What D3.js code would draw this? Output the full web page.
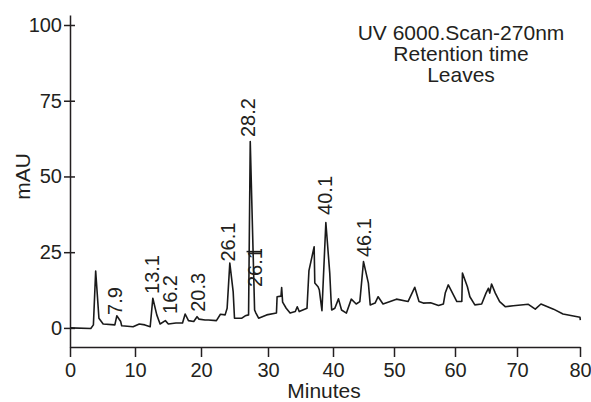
<!DOCTYPE html>
<html>
<head>
<meta charset="utf-8">
<script src="https://cdn.jsdelivr.net/npm/d3@7"></script>
<style>
  body { margin: 0; background: #fff; }
  svg text { font-family: "Liberation Sans", Arial, sans-serif; fill: #231f20; }
</style>
</head>
<body>
<div id="chart"></div>
<script>
var svgWidth = 591;
var svgHeight = 402;

// Retention time (minutes) and absorbance (mAU)
var times = [0, 3.2, 3.6, 3.95, 4.45, 5.1, 6.9, 7.2, 7.8, 7.95, 9.7, 10.65, 11.5, 12.3, 12.7, 13.3, 13.8,
  14.6, 15.05, 16.2, 17.2, 17.6, 18.1, 18.9, 19.4, 19.7, 20.6, 21.1, 22.3, 22.9, 23.6, 23.9, 24.3,
  24.8, 25.0, 26.1, 26.6, 27.1, 27.35, 28.0, 28.2, 28.6, 29.8, 31.3, 31.4, 32.0, 32.1, 32.25, 32.8,
  33.4, 34.2, 34.5, 34.8, 36.0, 36.3, 37.1, 37.2, 37.7, 37.9, 38.3, 38.9, 39.5, 39.7, 39.8, 40.3,
  40.9, 41.4, 42.2, 43.0, 43.8, 44.4, 45.0, 45.8, 46.1, 46.9, 47.4, 48.2, 49.6, 50.4, 52.3, 53.4,
  54.1, 54.8, 56.0, 57.3, 58.1, 58.4, 58.9, 60.3, 61.1, 61.2, 62.0, 62.4, 63.2, 64.3, 65.0, 65.4,
  65.6, 65.9, 66.5, 67.2, 68.1, 69.4, 71.8, 72.9, 73.8, 75.8, 77.3, 80.0, 80.05];
var mau = [0, -0.2, 1.0, 18.8, 3.2, 1.3, 1.0, 4.0, 2.1, 0.7, 0.4, 1.3, 1.0, 0.4, 9.8, 4.3, 1.3,
  2.4, 1.3, 1.6, 1.6, 4.6, 2.4, 2.1, 3.7, 2.9, 2.6, 2.6, 2.4, 4.5, 4.3, 6.5, 21.4,
  12.0, 3.2, 3.2, 4.0, 4.3, 61.5, 5.9, 4.9, 3.2, 4.3, 4.9, 10.3, 10.5, 13.3, 8.5, 6.5,
  4.9, 5.4, 7.0, 5.4, 6.5, 18.9, 26.8, 14.8, 13.6, 12.5, 5.7, 34.8, 18.1, 9.2, 5.9, 6.5,
  9.6, 5.9, 4.9, 9.5, 7.9, 8.7, 21.9, 14.8, 7.6, 8.2, 10.3, 7.9, 8.9, 9.5, 8.7, 13.4,
  8.7, 8.2, 8.3, 7.4, 7.9, 11.5, 14.2, 8.7, 8.7, 18.1, 13.6, 10.3, 7.6, 7.9, 11.5, 13.1,
  11.5, 14.5, 11.5, 8.7, 7.0, 7.3, 7.8, 6.2, 7.9, 6.2, 4.6, 3.5, 2.6];

// Peak labels: text, time and mAU where the label starts
var peakLabels = ["7.9", "13.1", "16.2", "20.3", "26.1", "28.2", "26.1", "40.1", "46.1"];
var labelTimes = [6.9, 12.6, 15.3, 19.5, 24.0, 27.0, 28.1, 38.7, 45.0];
var labelLevels = [4.3, 11.2, 4.6, 5.3, 21.9, 63.0, 13.5, 37.3, 23.4];

var xTicks = [0, 10, 20, 30, 40, 50, 60, 70, 80];
var yTicks = [0, 25, 50, 75, 100];
var titleLines = ["UV 6000.Scan-270nm", "Retention time", "Leaves"];

var svg = d3.select("#chart")
  .append("svg")
  .attr("width", svgWidth)
  .attr("height", svgHeight);

// the printed x axis is slightly uneven, so map each decade to its tick
var xScale = d3.scaleLinear()
  .domain(xTicks)
  .range([70, 135, 201, 268, 333, 394, 455, 517, 580]);

var yScale = d3.scaleLinear()
  .domain([-6.3, 103.3])
  .range([347, 15]);

// x axis
var xAxis = svg.append("g")
  .attr("transform", `translate(0, ${yScale(-6.3)})`)
  .call(d3.axisBottom(xScale).tickValues(xTicks).tickSizeInner(10).tickSizeOuter(0).tickPadding(6));

// y axis
var yAxis = svg.append("g")
  .attr("transform", `translate(${xScale(0)}, 0)`)
  .call(d3.axisLeft(yScale).tickValues(yTicks).tickSizeInner(6).tickSizeOuter(0).tickPadding(2));

yAxis.selectAll(".tick line").attr("x2", 5).attr("x1", -6);

svg.selectAll(".domain, .tick line")
  .attr("stroke", "#231f20")
  .attr("stroke-width", 1.5);

svg.selectAll(".tick text")
  .attr("font-size", "20px")
  .attr("font-family", null)
  .attr("fill", "#231f20");

// chromatogram trace
var trace = d3.line()
  .x((d, i) => xScale(times[i]))
  .y(d => yScale(d));

svg.append("path")
  .attr("d", trace(mau))
  .attr("fill", "none")
  .attr("stroke", "#1a1a1a")
  .attr("stroke-width", 1.6)
  .attr("stroke-linejoin", "round");

// peak labels, rotated
svg.selectAll(".peak")
  .data(peakLabels)
  .enter()
  .append("text")
  .attr("class", "peak")
  .attr("font-size", "20px")
  .attr("dy", "0.35em")
  .attr("transform", (d, i) => `translate(${xScale(labelTimes[i])}, ${yScale(labelLevels[i])}) rotate(-90)`)
  .text(d => d);

// cross mark on the 28.2 peak
svg.append("line")
  .attr("x1", xScale(26.8))
  .attr("x2", xScale(29.1))
  .attr("y1", yScale(25.2))
  .attr("y2", yScale(25.2))
  .attr("stroke", "#1a1a1a")
  .attr("stroke-width", 1.5);

// title block
svg.selectAll(".title")
  .data(titleLines)
  .enter()
  .append("text")
  .attr("class", "title")
  .attr("x", 461)
  .attr("y", (d, i) => 40 + i * 21)
  .attr("text-anchor", "middle")
  .attr("font-size", "21px")
  .text(d => d);

// axis labels
svg.append("text")
  .attr("transform", `translate(30, ${yScale(50)}) rotate(-90)`)
  .attr("text-anchor", "middle")
  .attr("font-size", "21px")
  .text("mAU");

svg.append("text")
  .attr("x", 324)
  .attr("y", 398)
  .attr("text-anchor", "middle")
  .attr("font-size", "21px")
  .text("Minutes");
</script>
</body>
</html>
